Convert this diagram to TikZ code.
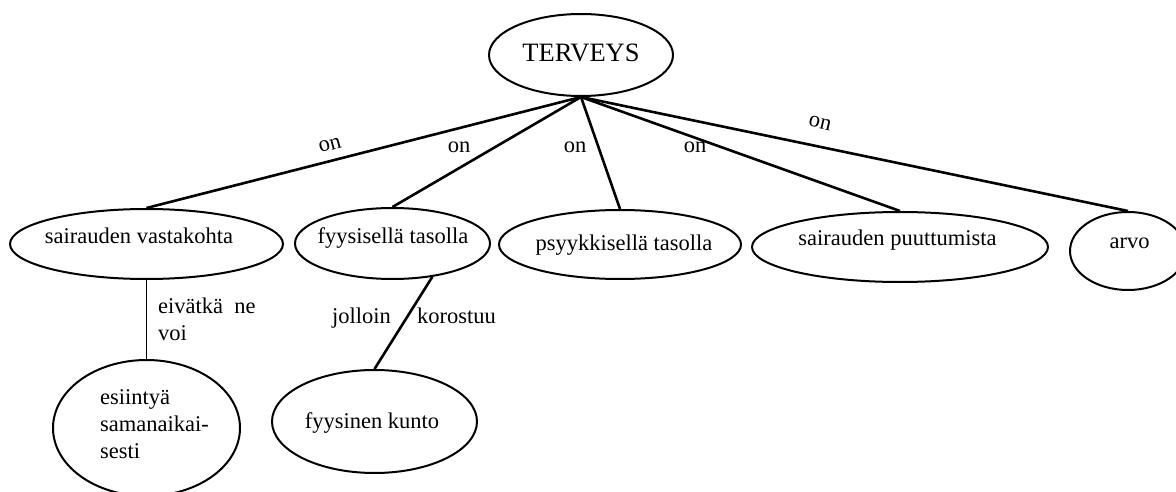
\documentclass[tikz,border=0pt]{standalone}
\usepackage{fontspec}
\setmainfont{Liberation Serif}
\usetikzlibrary{shapes.geometric}
\begin{document}
\begin{tikzpicture}[x=1pt,y=-1pt,
  ell/.style={draw,ellipse,inner sep=0pt,line width=2pt},
  txt/.style={inner sep=0pt,font=\fontsize{22.5}{27}\selectfont},
  conn/.style={line width=2.6pt},
  onlab/.style={inner sep=0pt,font=\fontsize{22.5}{27}\selectfont}]
\useasboundingbox (0,0) rectangle (1176,492);
% ellipses
\node[ell,minimum width=184pt,minimum height=82pt] (T) at (581,55) {};
\node[txt,anchor=base,font=\fontsize{26.5}{30}\selectfont] (Tt) at (581,62) {TERVEYS};
\node[ell,minimum width=273pt,minimum height=70pt] (sv) at (146.5,244) {};
\node[txt,anchor=base] (svt) at (139,243) {sairauden vastakohta};
\node[ell,minimum width=195pt,minimum height=71pt] (fs) at (392.5,243.5) {};
\node[txt,anchor=base] (fst) at (393,243) {fyysisellä tasolla};
\node[ell,minimum width=242pt,minimum height=69pt] (ps) at (620,244.5) {};
\node[txt,anchor=base] (pst) at (624,250) {psyykkisellä tasolla};
\node[ell,minimum width=296pt,minimum height=70pt] (sp) at (900,247) {};
\node[txt,anchor=base] (spt) at (897.5,245) {sairauden puuttumista};
\node[ell,minimum width=116pt,minimum height=78pt] (ar) at (1128,251) {};
\node[txt,anchor=base] (art) at (1129.5,248) {arvo};
\node[ell,minimum width=187pt,minimum height=136pt] (es) at (146.5,428) {};
\node[txt,anchor=base west,align=left] (est) at (100,458) {esiintyä\\samanaikai-\\sesti};
\node[ell,minimum width=205pt,minimum height=103pt] (fk) at (374.5,421.5) {};
\node[txt,anchor=base] (fkt) at (372,428) {fyysinen kunto};
% connectors
\draw[conn] (T.south) -- (sv.north);
\draw[conn] (T.south) -- (fs.north);
\draw[conn] (T.south) -- (ps.north);
\draw[conn] (T.south) -- (sp.north);
\draw[conn] (T.south) -- (ar.north);
\draw[line width=1.8pt] (sv.south) -- (es.north);
\draw[conn] (fs.-40) -- (fk.north);
% labels
\node[onlab,rotate=15] (on1) at (330,145) {on};
\node[onlab] (on2) at (459,147) {on};
\node[onlab] (on3) at (575,147) {on};
\node[onlab] (on4) at (695,147) {on};
\node[onlab,rotate=-13] (on5) at (820,123) {on};
\node[txt,anchor=base west,align=left] (eiv) at (158,340) {eivätkä\ \ ne\\voi};
\node[txt,anchor=base west] (jol) at (332,323) {jolloin};
\node[txt,anchor=base west] (kor) at (417,323) {korostuu};
\end{tikzpicture}
\end{document}
